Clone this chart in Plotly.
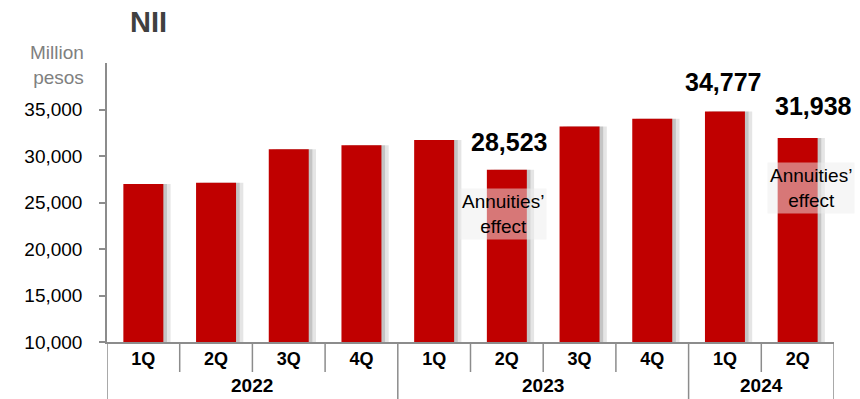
import plotly.graph_objects as go

# Quarterly net interest income, million pesos
years = ["2022", "2022", "2022", "2022", "2023", "2023", "2023", "2023", "2024", "2024"]
quarters = ["1Q", "2Q", "3Q", "4Q", "1Q", "2Q", "3Q", "4Q", "1Q", "2Q"]
nii = [26990, 27130, 30720, 31150, 31730, 28523, 33170, 34000, 34777, 31938]

# Quarters whose value is printed above the bar
labelled = [5, 8, 9]
# Quarters annotated with the annuities note
annuities = [5, 9]

RED = "#C00000"
AXIS = "#8c8c8c"
FONT = "Liberation Sans, Arial, sans-serif"

# plot-area geometry (pixels)
W, H = 860, 399
ML, MR, MT, MB = 107, 26, 63, 57
PH = H - MT - MB


def px_to_paper_y(py):
    """Convert a pixel row (from the top of the page) to paper y."""
    return (H - MB - py) / PH


idx = list(range(len(nii)))
BAR_W = 0.55

fig = go.Figure()

# soft drop shadow to the right of each bar (two layered bands)
for shift, alpha in [(0.10, 0.10), (0.05, 0.14)]:
    fig.add_trace(go.Bar(
        x=idx, y=nii, base=0,
        marker=dict(color=f"rgba(0,0,0,{alpha})", line=dict(width=0)),
        width=BAR_W, offset=-BAR_W / 2 + shift, hoverinfo="skip", showlegend=False,
    ))
fig.add_trace(go.Bar(
    x=idx, y=nii, base=0,
    marker=dict(color=RED, line=dict(width=0)),
    width=BAR_W, offset=-BAR_W / 2, showlegend=False,
    customdata=[f"{q} {y}" for q, y in zip(quarters, years)],
    hovertemplate="%{customdata}: %{y:,}<extra></extra>",
))

# value labels above selected bars (x/y nudges in pixels)
value_nudge = {5: (2, 12), 8: (-2, 14), 9: (16, 16)}
for i in labelled:
    dx, dy = value_nudge[i]
    fig.add_annotation(
        x=i, y=nii[i], xref="x", yref="y",
        text=f"<b>{nii[i]:,}</b>", showarrow=False, yanchor="bottom",
        xshift=dx, yshift=dy,
        font=dict(family=FONT, size=25, color="black"),
    )

# "Annuities' effect" notes inside the bars
note_nudge = {5: (-4, -18), 9: (13, -24)}
for i in annuities:
    dx, dy = note_nudge[i]
    fig.add_annotation(
        x=i, y=nii[i], xref="x", yref="y",
        text="Annuities’<br>effect", showarrow=False, yanchor="top",
        xshift=dx, yshift=dy,
        font=dict(family=FONT, size=19, color="black"),
        bgcolor="rgba(238,238,238,0.5)", borderpad=2,
    )

# chart title and unit
fig.add_annotation(
    x=(128 - ML) / (W - ML - MR), y=px_to_paper_y(22), xref="paper", yref="paper",
    text="<b>NII</b>", showarrow=False, xanchor="left", yanchor="middle",
    font=dict(family=FONT, size=29, color="#404040"),
)
fig.add_annotation(
    x=(86 - ML) / (W - ML - MR), y=px_to_paper_y(65), xref="paper", yref="paper",
    text="Million<br>pesos", showarrow=False, xanchor="right", yanchor="middle",
    align="right",
    font=dict(family=FONT, size=19, color="#808080"),
)

# year group labels under the quarter labels
year_names = list(dict.fromkeys(years))
for yname in year_names:
    members = [i for i, y in enumerate(years) if y == yname]
    fig.add_annotation(
        x=sum(members) / len(members), y=px_to_paper_y(398), xref="x", yref="paper",
        text=f"<b>{yname}</b>", showarrow=False, yanchor="bottom",
        font=dict(family=FONT, size=19, color="black"),
    )

# category boundary ticks and year dividers
shapes = []
for b in range(len(idx) + 1):
    xb = b - 0.5
    year_edge = b == 0 or b == len(idx) or years[b] != years[b - 1]
    shapes.append(dict(
        type="line", xref="x", yref="paper", x0=xb, x1=xb,
        y0=0, y1=px_to_paper_y(H + 2) if year_edge else px_to_paper_y(372),
        line=dict(color=AXIS, width=1.5), layer="below",
    ))

fig.update_layout(
    width=W, height=H,
    margin=dict(l=ML, r=MR, t=MT, b=MB, autoexpand=False),
    paper_bgcolor="white", plot_bgcolor="white",
    barmode="overlay",
    font=dict(family=FONT, color="black"),
    shapes=shapes,
)
fig.update_yaxes(
    range=[10000, 40000], tickvals=[10000, 15000, 20000, 25000, 30000, 35000],
    tickformat=",", ticks="outside", ticklen=6, tickcolor=AXIS, tickwidth=1.5,
    showline=True, linecolor=AXIS, linewidth=1.5, showgrid=False, zeroline=False,
    ticklabelstandoff=13,
    tickfont=dict(family=FONT, size=19, color="black"),
)
fig.update_xaxes(
    range=[-0.5, len(idx) - 0.5], tickvals=idx,
    ticktext=[f"<b>{q}</b>" for q in quarters],
    ticks="", showline=True, linecolor=AXIS, linewidth=1.5,
    showgrid=False, zeroline=False, ticklabelstandoff=0,
    tickfont=dict(family=FONT, size=18, color="black"),
)

fig.write_html("out.html")
